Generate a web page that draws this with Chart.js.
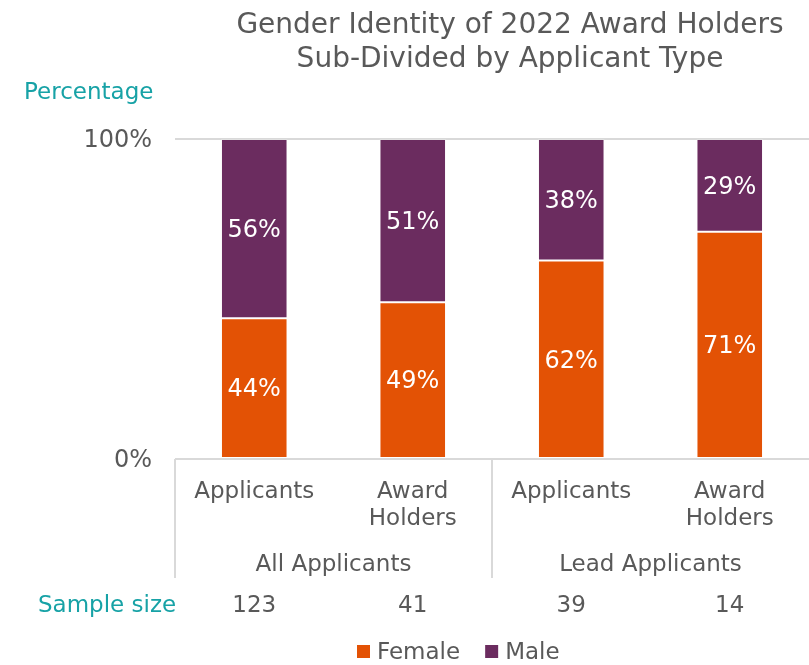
<!DOCTYPE html>
<html>
<head>
<meta charset="utf-8">
<script src="https://cdn.jsdelivr.net/npm/chart.js@4.4.1/dist/chart.umd.min.js"></script>
<style>
  html, body { margin: 0; padding: 0; background: #fff; }
  #wrap { width: 809px; height: 665px; position: relative; }
</style>
</head>
<body>
<div id="wrap"><canvas id="chart"></canvas></div>
<script>
// Data
const categories = [["Applicants"], ["Award", "Holders"], ["Applicants"], ["Award", "Holders"]];
const groups = ["All Applicants", "Lead Applicants"];
const femaleValues = [44, 49, 62, 71];
const maleValues = [56, 51, 38, 29];
const sampleSizes = [123, 41, 39, 14];
const yTicks = [0, 100];
const titleLines = ["Gender Identity of 2022 Award Holders", "Sub-Divided by Applicant Type"];

const FONT = "'DejaVu Sans', Verdana, sans-serif";
const GREY = "#595959";
const TEAL = "#17A2A6";
const ORANGE = "#E35205";
const PURPLE = "#6B2C5F";
const RULE = "#D9D9D9";

// Extra text/lines drawn around the plot
const extrasPlugin = {
  id: "extras",
  afterDatasetsDraw(chart) {
    const { ctx } = chart;
    ctx.save();

    // value labels inside segments
    ctx.fillStyle = "#fff";
    ctx.font = `24px ${FONT}`;
    ctx.textAlign = "center";
    ctx.textBaseline = "middle";
    chart.data.datasets.forEach((ds, di) => {
      const meta = chart.getDatasetMeta(di);
      meta.data.forEach((bar, i) => {
        const mid = (bar.y + bar.base) / 2 + 2;
        ctx.fillText(ds.data[i] + "%", bar.x, mid);
      });
    });
    ctx.restore();
  },
  afterDraw(chart) {
    const { ctx, chartArea, scales } = chart;
    const x = scales.x;
    ctx.save();

    // title
    ctx.fillStyle = GREY;
    ctx.font = `28px ${FONT}`;
    ctx.textAlign = "center";
    ctx.textBaseline = "middle";
    titleLines.forEach((t, i) => ctx.fillText(t, 510, 26 + i * 34));

    // y axis caption
    ctx.fillStyle = TEAL;
    ctx.font = `23px ${FONT}`;
    ctx.textAlign = "left";
    ctx.fillText("Percentage", 24, 93);

    // group separators
    const bottom = chartArea.bottom;
    const sepX = [chartArea.left, x.getPixelForValue(1.5)];
    ctx.strokeStyle = RULE;
    ctx.lineWidth = 2;
    sepX.forEach((sx) => {
      ctx.beginPath();
      ctx.moveTo(Math.round(sx), bottom);
      ctx.lineTo(Math.round(sx), 578);
      ctx.stroke();
    });

    // group labels
    ctx.fillStyle = GREY;
    ctx.font = `23px ${FONT}`;
    ctx.textAlign = "center";
    groups.forEach((g, gi) => {
      const a = x.getPixelForValue(gi * 2 - 0.5);
      const b = x.getPixelForValue(gi * 2 + 1.5);
      ctx.fillText(g, (a + b) / 2, 565);
    });

    // sample size row
    ctx.fillStyle = TEAL;
    ctx.textAlign = "left";
    ctx.fillText("Sample size", 38, 606);
    ctx.fillStyle = GREY;
    ctx.textAlign = "center";
    sampleSizes.forEach((n, i) => ctx.fillText(String(n), x.getPixelForValue(i), 606));

    // legend
    let lx = 357;
    const ly = 652;
    ctx.textAlign = "left";
    chart.data.datasets.forEach((ds) => {
      ctx.fillStyle = ds.backgroundColor;
      ctx.fillRect(lx, ly - 7, 13, 13);
      ctx.fillStyle = GREY;
      ctx.fillText(ds.label, lx + 20, ly + 1);
      lx += 20 + ctx.measureText(ds.label).width + 25;
    });

    ctx.restore();
  },
};

new Chart(document.getElementById("chart"), {
  type: "bar",
  data: {
    labels: categories,
    datasets: [
      {
        label: "Female",
        data: femaleValues,
        backgroundColor: ORANGE,
        borderColor: "rgba(255,255,255,0.2)",
        borderWidth: 1,
        borderSkipped: false,
        barPercentage: 0.42,
        categoryPercentage: 1,
      },
      {
        label: "Male",
        data: maleValues,
        backgroundColor: PURPLE,
        borderColor: "rgba(255,255,255,0.2)",
        borderWidth: 1,
        borderSkipped: false,
        barPercentage: 0.42,
        categoryPercentage: 1,
      },
    ],
  },
  options: {
    responsive: true,
    maintainAspectRatio: false,
    animation: false,
    layout: { padding: { top: 139, left: 0, right: 0, bottom: 0 } },
    scales: {
      x: {
        stacked: true,
        grid: { display: false, drawTicks: false },
        border: { display: false },
        ticks: {
          color: GREY,
          font: { family: FONT, size: 23, lineHeight: 1.18 },
          padding: 19,
          maxRotation: 0,
          autoSkip: false,
        },
        afterFit: (scale) => { scale.height = 206; },
      },
      y: {
        stacked: true,
        min: 0,
        max: 100,
        afterBuildTicks: (scale) => { scale.ticks = yTicks.map((v) => ({ value: v })); },
        grid: { color: RULE, lineWidth: 2, drawTicks: false },
        border: { display: false },
        ticks: {
          color: GREY,
          font: { family: FONT, size: 24 },
          padding: 23,
          labelOffset: 2,
          callback: (v) => v + "%",
        },
        afterFit: (scale) => { scale.width = 175; },
      },
    },
    plugins: {
      legend: { display: false },
      tooltip: { enabled: false },
      title: { display: false },
    },
  },
  plugins: [extrasPlugin],
});
</script>
</body>
</html>
